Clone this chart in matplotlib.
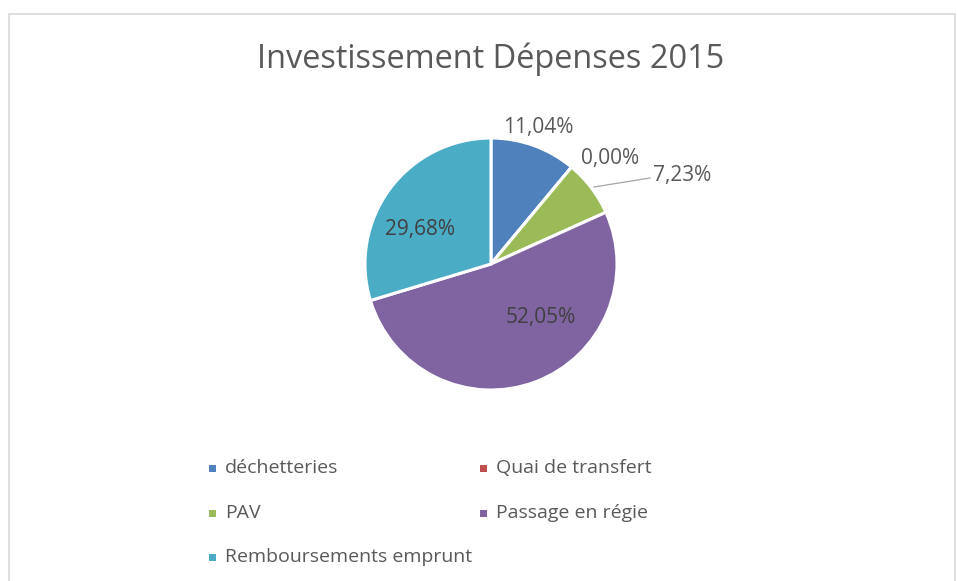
import matplotlib
matplotlib.use("Agg")
import matplotlib.pyplot as plt
from matplotlib.patches import Rectangle
import numpy as np

categories = ["déchetteries", "Quai de transfert", "PAV", "Passage en régie", "Remboursements emprunt"]
values = [11.04, 0.00, 7.23, 52.05, 29.68]
labels = ["11,04%", "0,00%", "7,23%", "52,05%", "29,68%"]
colors = ["#4F81BD", "#C0504D", "#9BBB59", "#8064A2", "#4BACC6"]
title = "Investissement Dépenses 2015"

W, H = 958, 581
fig = plt.figure(figsize=(W/100, H/100), dpi=100)
fig.patch.set_facecolor("white")
font = ["Open Sans", "DejaVu Sans"]

# chart border
fig.add_artist(Rectangle((9/W, -0.05), (955-9)/W, 1.05 - 14/H, transform=fig.transFigure,
                         fill=False, edgecolor="#D9D9D9", linewidth=1.2))

cx, cy, r = 491, 264, 126
ax = fig.add_axes([(cx - r)/W, 1 - (cy + r)/H, 2*r/W, 2*r/H])
wedges, _ = ax.pie(values, colors=colors, startangle=90, counterclock=False,
                   wedgeprops=dict(edgecolor="white", linewidth=2.2), radius=1.0)
ax.set_xlim(-1, 1); ax.set_ylim(-1, 1)
ax.set_aspect("equal")
ax.axis("off")

def px(x, y):
    return x / W, 1 - y / H

txtcol = "#595959"
lab_pos = [(538, 127, "center"), (610, 159, "center"), (653, 175, "left"),
           (541, 318, "center"), (420, 230, "center")]
for (x, y, ha), lab, i in zip(lab_pos, labels, range(5)):
    col = "#404040" if i in (3, 4) else txtcol
    fig.text(*px(x, y), lab, ha=ha, va="center", fontsize=15, color=col, family=font)

# leader line for 7,23%
fig.add_artist(plt.Line2D([594/W, 650/W], [1 - 187/H, 1 - 178/H], transform=fig.transFigure,
                          color="#A6A6A6", linewidth=0.9))

fig.text(*px(491, 59), title, ha="center", va="center", fontsize=23.4, color="#595959", family=font)

# legend
leg_pos = [(212, 468), (483, 468), (212, 513), (483, 513), (212, 557)]
for (x, y), cat, c in zip(leg_pos, categories, colors):
    fig.add_artist(Rectangle(((x - 3.5)/W, 1 - (y + 3.5)/H), 7/W, 7/H, transform=fig.transFigure,
                             facecolor=c, edgecolor="none"))
    fig.text(*px(x + 13, y), cat, ha="left", va="center", fontsize=14, color=txtcol, family=font)

fig.savefig("out.png", dpi=100)
